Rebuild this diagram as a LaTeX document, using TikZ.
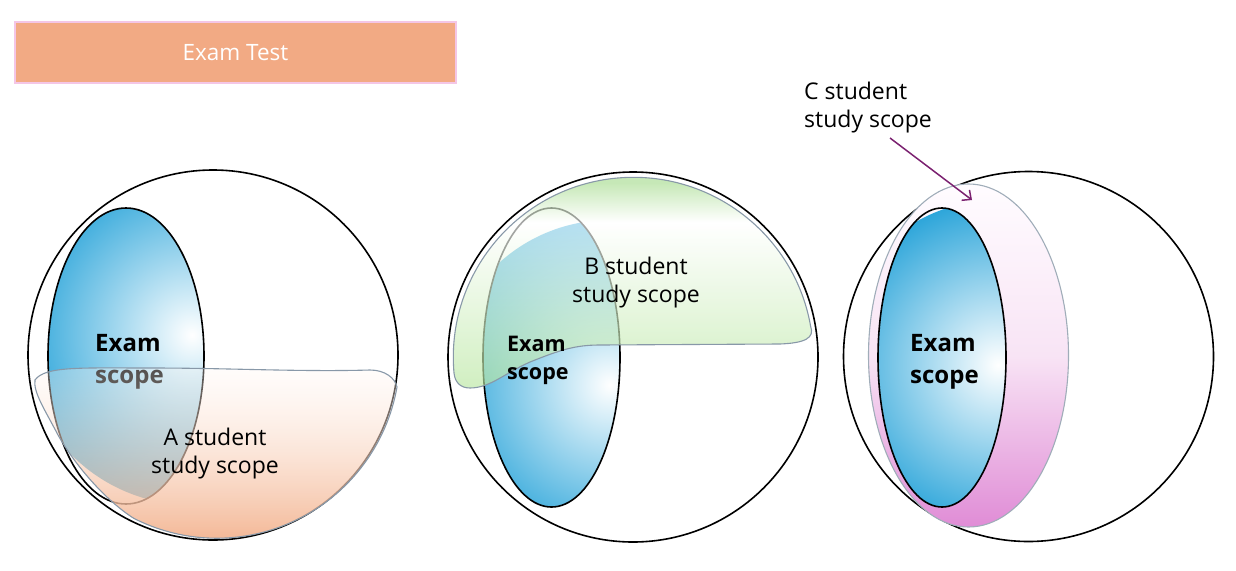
\documentclass[tikz,border=0pt]{standalone}
\usepackage{fontspec}
\setmainfont{Open Sans}
\usetikzlibrary{arrows.meta,fadings}
\definecolor{exblue}{HTML}{2EA6DA}
\definecolor{titlefill}{HTML}{F2AA84}
\definecolor{titleline}{HTML}{F4C6E6}
\definecolor{shapeline}{HTML}{8898A8}
\definecolor{peachtop}{HTML}{FFF8F4}
\definecolor{peachbot}{HTML}{F2AE88}
\definecolor{gB}{HTML}{B8E6A0}
\definecolor{gBt}{HTML}{A8DC90}
\definecolor{pinktop}{HTML}{FFFCFF}
\definecolor{pinkmid}{HTML}{F8E4F5}
\definecolor{pinkbot}{HTML}{E08CD6}
\definecolor{arrowcol}{HTML}{7B2170}
\pgfdeclareverticalshading{bshade}{100bp}{color(0bp)=(gB); color(25bp)=(gB); color(63bp)=(white); color(72bp)=(gBt); color(75bp)=(gBt); color(100bp)=(gBt)}
\tikzfading[name=afade, top color=transparent!68, bottom color=transparent!8]
\tikzset{
  ring/.style={draw=black, line width=1.6pt},
  exline/.style={draw=black, line width=1.6pt},
  examtxt/.style={font=\bfseries\fontsize{24}{32}\selectfont, align=left, inner sep=0pt, text=black},
  examtxtb/.style={font=\bfseries\fontsize{21.5}{28}\selectfont, align=left, inner sep=0pt, text=black},
  lbl/.style={font=\fontsize{23}{28}\selectfont, align=center, inner sep=0pt, text=black},
  lblleft/.style={font=\fontsize{23}{28}\selectfont, align=left, inner sep=0pt, text=black},
  shapeAfill/.style={top color=peachtop, bottom color=peachbot, path fading=afade},
  shapeAline/.style={draw=shapeline, line width=1.1pt},
  shapeB/.style={draw=shapeline, line width=1.1pt, shading=bshade, fill opacity=0.65},
  shapeC/.style={draw=shapeline!80, line width=1.1pt, top color=pinktop, bottom color=pinkbot, middle color=pinkmid},
  titlebox/.style={fill=titlefill, draw=titleline, line width=1.6pt, text=white, font=\fontsize{22.5}{25}\selectfont, minimum width=441pt, minimum height=61pt, inner sep=0pt},
  carrow/.style={draw=arrowcol, line width=1.5pt, -{Straight Barb[length=7pt,width=13pt]}}
}
\begin{document}
\begin{tikzpicture}[x=1pt,y=-1pt]
\useasboundingbox (0,0) rectangle (1236,570);
% title
\node[titlebox] (title) at (235.5,52.5) {Exam Test};

% ---------- circle 1 ----------
\draw[ring] (213,355) circle (185);
\begin{scope}
  \clip (126,356) ellipse [x radius=78, y radius=148];
  \shade[inner color=white, outer color=exblue] (192,335) circle (170);
\end{scope}
\draw[exline] (126,356) ellipse [x radius=78, y radius=148];
\node[examtxt, anchor=west] (ex1) at (95,362) {Exam\\scope};
\def\apath{(35,380) .. controls (45,366) and (80,368) .. (150,368)
  .. controls (230,368) and (300,372) .. (370,370)
  .. controls (385,370) and (395,378) .. (397,387)
  arc[start angle=10, end angle=117, radius=183]
  .. controls (105,500) and (75,465) .. (58,435)
  .. controls (45,410) and (33,392) .. (35,380) -- cycle}
\shade[shapeAfill] \apath;
\path[shapeAline] \apath;
\node[lbl] (la) at (215,454) {A student\\study scope};

% ---------- circle 2 ----------
\draw[ring] (633,357) circle (185);
\begin{scope}
  \clip (551.5,357.5) ellipse [x radius=68.5, y radius=149.5];
  \shade[inner color=white, outer color=exblue] (610,385) circle (165);
\end{scope}
\draw[exline] (551.5,357.5) ellipse [x radius=68.5, y radius=149.5];
\path[shapeB] (454,373) arc[start angle=175, end angle=350, radius=180]
  .. controls (815,338) and (805,343) .. (780,344) -- (600,345)
  .. controls (575,345) and (560,350) .. (530,362)
  .. controls (505,373) and (490,388) .. (470,388)
  .. controls (460,388) and (455,382) .. (454,373) -- cycle;
\node[examtxtb, anchor=west] (ex2) at (507,360) {Exam\\scope};
\node[lbl] (lb) at (636,283) {B student\\study scope};

% ---------- circle 3 ----------
\draw[ring] (1028.5,356.5) circle (185);
\path[shapeC] (968.5,355.5) ellipse [x radius=100, y radius=171.5];
\begin{scope}
  \clip (942,357.5) ellipse [x radius=64, y radius=149.5];
  \shade[inner color=white, outer color=exblue] (998,365) circle (165);
\end{scope}
\draw[exline] (942,357.5) ellipse [x radius=64, y radius=149.5];
\node[examtxt, anchor=west] (ex3) at (910,362) {Exam\\scope};
\node[lblleft, anchor=north west] (lc) at (804,82) {C student\\study scope};
\coordinate (cs) at (890,138);
\coordinate (ce) at (972,200);
\draw[carrow] (cs) -- (ce);
\end{tikzpicture}
\end{document}
